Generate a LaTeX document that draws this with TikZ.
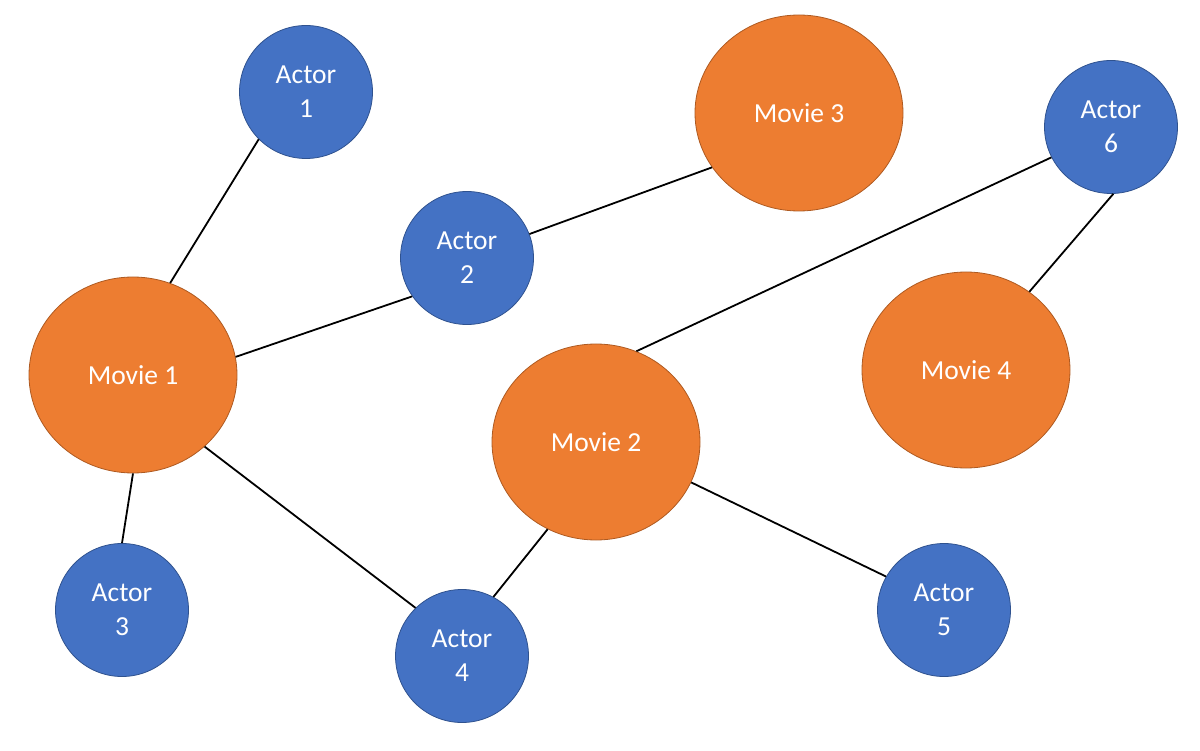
\documentclass[tikz,border=0pt]{standalone}
\usepackage{fontspec}
\setmainfont{Carlito}
\usepackage{tikz}
\usetikzlibrary{shapes.geometric,positioning}

\definecolor{actorblue}{HTML}{4472C4}
\definecolor{actorline}{HTML}{2F528F}
\definecolor{movieorange}{HTML}{ED7D31}
\definecolor{movieline}{HTML}{AE5A21}

\begin{document}
\begin{tikzpicture}[x=1pt,y=-1pt]

\tikzset{
  actor/.style={circle, draw=actorline, fill=actorblue, line width=0.8pt,
                minimum size=133pt, inner sep=0pt, text=white, align=center,
                font=\fontsize{27.5}{34}\selectfont},
  movie/.style={ellipse, draw=movieline, fill=movieorange, line width=0.8pt,
                minimum width=208pt, minimum height=196pt, inner sep=0pt,
                text=white, align=center, font=\fontsize{27.5}{34}\selectfont},
  link/.style={black, line width=1.8pt}
}

% Frame
\useasboundingbox (0,0) rectangle (1200,751);

% Movies
\node[movie] (m1) at (133,375) {Movie 1};
\node[movie] (m2) at (596,442) {Movie 2};
\node[movie] (m3) at (799,113) {Movie 3};
\node[movie] (m4) at (966,370) {Movie 4};

% Actors
\node[actor] (a1) at (306,92)   {Actor\\1};
\node[actor] (a2) at (467,258)  {Actor\\2};
\node[actor] (a3) at (122,610)  {Actor\\3};
\node[actor] (a4) at (462,656)  {Actor\\4};
\node[actor] (a5) at (944,610)  {Actor\\5};
\node[actor] (a6) at (1111,127) {Actor\\6};

% Links
\draw[link] (a1.225) -- (m1.68);
\draw[link] (a2.215) -- (m1.10);
\draw[link] (a2.21) -- (m3.212);
\draw[link] (a6.207) -- (m2.66);
\draw[link] (a6.272) -- (m4.51);
\draw[link] (m1.270) -- (a3.90);
\draw[link] (m1.315) -- (a4.134);
\draw[link] (m2.241) -- (a4.62);
\draw[link] (m2.337) -- (a5.150);

\end{tikzpicture}
\end{document}
